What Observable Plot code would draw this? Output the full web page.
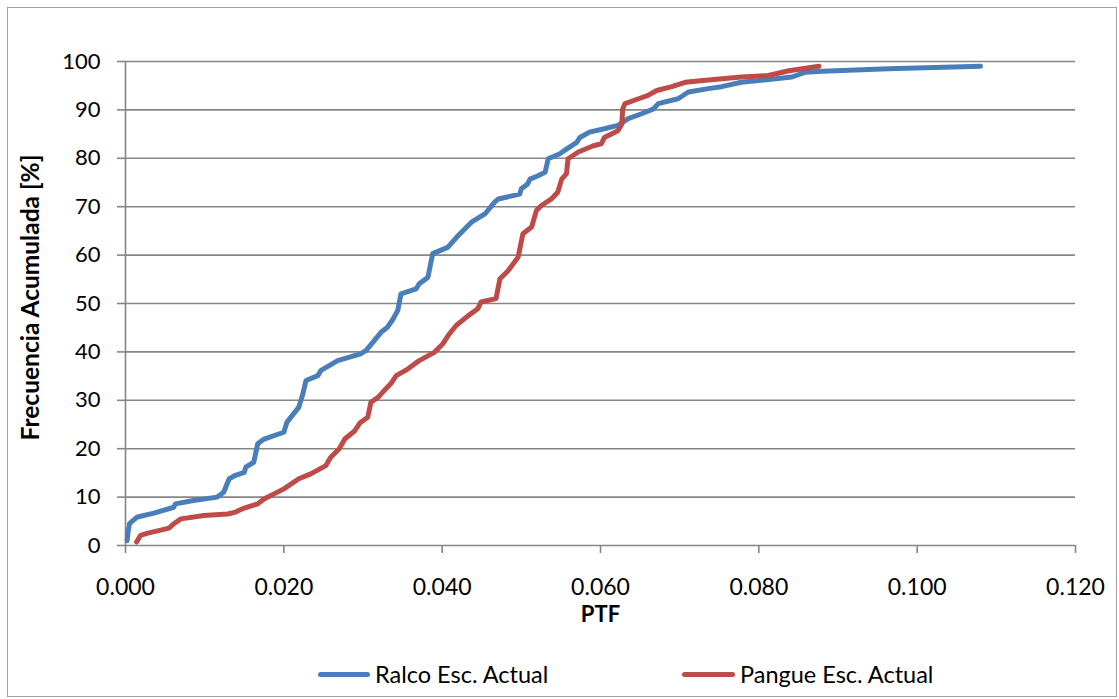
<!DOCTYPE html>
<html>
<head>
<meta charset="utf-8">
<script src="https://cdn.jsdelivr.net/npm/d3@7"></script>
<script src="https://cdn.jsdelivr.net/npm/@observablehq/plot@0.6"></script>
<style>
  html, body { margin: 0; padding: 0; background: #fff; }
  #wrap { position: relative; width: 1119px; height: 699px; font-family: Lato, "Open Sans", sans-serif; }
  #frame { position: absolute; left: 7px; top: 7px; width: 1110px; height: 690px; border: 1px solid #a0a0a0; box-sizing: border-box; pointer-events: none; }
  #legend { position: absolute; left: 0; top: 640px; width: 1119px; height: 59px; }
  .item { position: absolute; top: 20px; height: 28px; display: flex; align-items: center; font-size: 23.5px; color: #000; }
  .swatch { display: inline-block; height: 5px; border-radius: 3px; margin-right: 5px; }
</style>
</head>
<body>
<div id="wrap">
  <div id="chart"></div>
  <div id="legend"></div>
  <div id="frame"></div>
</div>
<script>
// Series names and colours
const seriesNames = ["Ralco Esc. Actual", "Pangue Esc. Actual"];
const seriesColors = ["#4a7ebb", "#be4b48"];

// Ralco Esc. Actual (PTF, cumulative frequency %)
const ralcoPTF = [0.0002,0.0003,0.0005,0.0015,0.0036,0.0061,0.0063,0.0086,0.0116,0.0124,0.0131,0.0139,0.0150,0.0152,0.0162,0.0167,0.0175,0.0200,0.0204,0.0219,0.0224,0.0228,0.0243,0.0247,0.0268,0.0297,0.0304,0.0316,0.0323,0.0331,0.0338,0.0344,0.0348,0.0367,0.0371,0.0382,0.0388,0.0407,0.0420,0.0437,0.0454,0.0466,0.0471,0.0498,0.0500,0.0508,0.0511,0.0521,0.0530,0.0534,0.0548,0.0557,0.0570,0.0574,0.0586,0.0605,0.0622,0.0635,0.0652,0.0667,0.0673,0.0698,0.0711,0.0736,0.0753,0.0778,0.0842,0.0859,0.0880,0.0964,0.1080];
const ralcoFreq = [1.0,2.5,4.5,5.9,6.7,7.9,8.6,9.3,10.0,11.0,13.8,14.5,15.1,16.2,17.2,21.0,22.0,23.4,25.5,28.6,31.3,34.1,35.1,36.2,38.2,39.6,40.3,42.7,44.1,45.1,46.8,48.6,52.0,53.0,54.1,55.4,60.3,61.6,64.0,66.8,68.5,70.9,71.6,72.6,73.7,74.7,75.7,76.4,77.1,79.9,80.9,81.9,83.3,84.3,85.4,86.1,86.8,88.2,89.2,90.2,91.3,92.3,93.7,94.4,94.8,95.7,96.8,97.8,98.0,98.5,99.0];

// Pangue Esc. Actual (PTF, cumulative frequency %)
const panguePTF = [0.0014,0.0019,0.0027,0.0055,0.0061,0.0070,0.0099,0.0129,0.0139,0.0148,0.0167,0.0175,0.0200,0.0219,0.0234,0.0253,0.0259,0.0270,0.0277,0.0289,0.0296,0.0306,0.0310,0.0319,0.0329,0.0335,0.0342,0.0357,0.0371,0.0390,0.0401,0.0409,0.0418,0.0433,0.0445,0.0449,0.0468,0.0473,0.0483,0.0496,0.0502,0.0513,0.0519,0.0525,0.0538,0.0546,0.0551,0.0557,0.0559,0.0572,0.0591,0.0601,0.0605,0.0622,0.0627,0.0628,0.0631,0.0648,0.0660,0.0671,0.0690,0.0707,0.0736,0.0778,0.0812,0.0838,0.0876];
const pangueFreq = [0.7,2.1,2.5,3.6,4.5,5.5,6.2,6.5,6.9,7.6,8.6,9.6,11.7,13.8,14.8,16.5,18.2,20.0,22.0,23.6,25.3,26.5,29.6,30.6,32.4,33.4,35.1,36.5,38.2,39.9,41.7,43.7,45.5,47.5,48.9,50.3,51.0,55.1,56.7,59.6,64.4,65.8,69.2,70.2,71.6,73.0,75.7,76.8,79.9,81.3,82.6,83.0,84.3,85.7,87.1,90.2,91.3,92.3,93.0,94.0,94.8,95.7,96.2,96.8,97.1,98.1,99.0];

// Axis ticks
const xTicks = [0, 0.02, 0.04, 0.06, 0.08, 0.10, 0.12];
const yTicks = [0, 10, 20, 30, 40, 50, 60, 70, 80, 90, 100];

const data = [
  ...ralcoPTF.map((p, i) => ({serie: seriesNames[0], ptf: p, freq: ralcoFreq[i]})),
  ...panguePTF.map((p, i) => ({serie: seriesNames[1], ptf: p, freq: pangueFreq[i]}))
];

const gray = "#868686";

const plot = Plot.plot({
  width: 1119,
  height: 640,
  marginLeft: 125,
  marginRight: 44,
  marginTop: 61,
  marginBottom: 95,
  style: {fontFamily: "Lato, 'Open Sans', sans-serif", fontSize: "22px", color: "#000", background: "transparent"},
  x: {domain: [0, 0.12]},
  y: {domain: [0, 100]},
  color: {domain: seriesNames, range: seriesColors},
  marks: [
    Plot.gridY(yTicks.filter(d => d > 0), {stroke: gray, strokeOpacity: 1, strokeWidth: 1.6}),
    Plot.ruleY([0], {stroke: gray, strokeWidth: 1.6}),
    Plot.ruleX([0], {stroke: gray, strokeWidth: 1.6}),
    Plot.axisY({ticks: yTicks, tickSize: 8, tickPadding: 17, stroke: gray, strokeWidth: 1.6, label: null, fill: "#000"}),
    Plot.axisX({ticks: xTicks, tickSize: 8, tickPadding: 25, tickFormat: d3.format(".3f"), stroke: gray, strokeWidth: 1.6, label: null, fill: "#000", fontSize: 23}),
    Plot.line(data, {x: "ptf", y: "freq", z: "serie", stroke: "serie", strokeWidth: 5, strokeLinecap: "round", strokeLinejoin: "round"}),
    Plot.text(["PTF"], {frameAnchor: "bottom", dy: 76, fontWeight: "bold", fontSize: 22, fill: "#000"}),
    Plot.text(["Frecuencia Acumulada [%]"], {frameAnchor: "left", textAnchor: "middle", rotate: -90, dx: -94, dy: -6, fontWeight: "bold", fontSize: 24.5, fill: "#000"})
  ]
});
document.getElementById("chart").appendChild(plot);

// Legend below the SVG
const legend = d3.select("#legend");
const legendLeft = [318, 682];
const swatchW = [52, 53];
seriesNames.forEach((name, i) => {
  const item = legend.append("div").attr("class", "item").style("left", legendLeft[i] + "px");
  item.append("span").attr("class", "swatch").style("width", swatchW[i] + "px").style("background", seriesColors[i]);
  item.append("span").text(name);
});
</script>
</body>
</html>
